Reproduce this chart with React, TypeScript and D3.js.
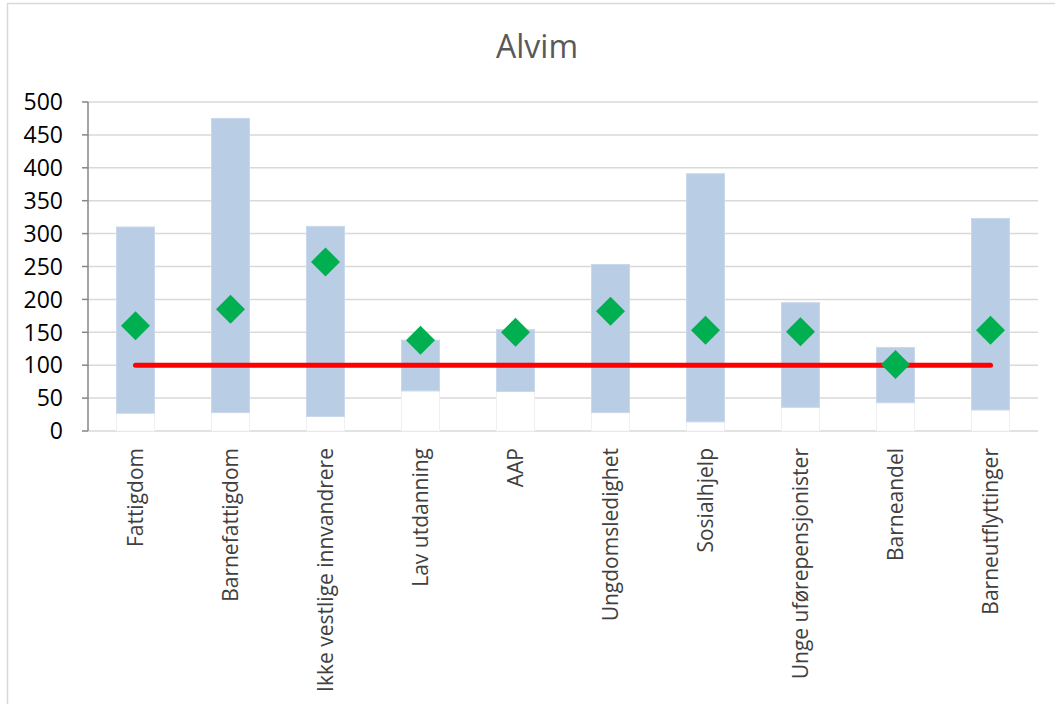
import React from "react";
import * as d3 from "d3";

const categories = [
  "Fattigdom",
  "Barnefattigdom",
  "Ikke vestlige innvandrere",
  "Lav utdanning",
  "AAP",
  "Ungdomsledighet",
  "Sosialhjelp",
  "Unge uførepensjonister",
  "Barneandel",
  "Barneutflyttinger",
];
const minValues = [27, 28, 22, 61, 60, 28, 14, 36, 43, 32];
const maxValues = [310, 475, 311, 138, 154, 253, 391, 195, 127, 323];
const values = [160, 185, 257, 138, 150, 182, 153, 151, 101, 153];
const referenceValue = 100;
const yTicks = [0, 50, 100, 150, 200, 250, 300, 350, 400, 450, 500];
const title = "Alvim";

const W = 1055;
const H = 704;
const left = 88;
const right = 1038;
const top = 102;
const bottom = 431;

export default function App() {
  const x = d3.scaleBand<string>().domain(categories).range([left, right]).padding(0);
  const y = d3.scaleLinear().domain([0, 500]).range([bottom, top]);
  const bw = x.bandwidth() * 0.4;
  const cx = (c: string) => (x(c) as number) + x.bandwidth() / 2;
  const diamond = d3.symbol().type(d3.symbolSquare).size(420)();
  const font = "'Open Sans', sans-serif";

  const lineGen = d3
    .line<string>()
    .x((c) => cx(c))
    .y(() => y(referenceValue));

  return (
    <svg
      width={W}
      height={H}
      style={{ position: "absolute", left: 0, top: 0, background: "#fff" }}
    >
      <rect x={7.5} y={3.5} width={W + 10} height={H + 10} fill="#fff" stroke="#d9d9d9" strokeWidth={1.5} />
      <text x={537} y={58} textAnchor="middle" fontFamily={font} fontSize={32} fill="#595959">
        {title}
      </text>
      {yTicks.map((t) => (
        <g key={t}>
          <line x1={left} x2={right} y1={y(t)} y2={y(t)} stroke="#d9d9d9" strokeWidth={1.5} />
          <line x1={82} x2={left} y1={y(t)} y2={y(t)} stroke="#868686" strokeWidth={1.5} />
          <text x={63} y={y(t)} dy="0.36em" textAnchor="end" fontFamily={font} fontSize={23} fill="#000">
            {t}
          </text>
        </g>
      ))}
      <line x1={left} x2={left} y1={top} y2={bottom} stroke="#868686" strokeWidth={1.5} />
      {categories.map((c, i) => (
        <g key={c}>
          <rect
            x={cx(c) - bw / 2}
            y={y(minValues[i])}
            width={bw}
            height={y(0) - y(minValues[i])}
            fill="#fff"
            stroke="#f0f0f0"
            strokeWidth={1}
          />
          <rect
            x={cx(c) - bw / 2}
            y={y(maxValues[i])}
            width={bw}
            height={y(minValues[i]) - y(maxValues[i])}
            fill="#b9cde5"
            stroke="#c9d8ec"
            strokeWidth={1}
          />
        </g>
      ))}
      <path d={lineGen(categories) || ""} stroke="#ff0000" strokeWidth={5} strokeLinecap="round" fill="none" />
      {categories.map((c, i) => (
        <path
          key={c}
          d={diamond || ""}
          transform={`translate(${cx(c)},${y(values[i])}) rotate(45)`}
          fill="#00b050"
        />
      ))}
      {categories.map((c) => (
        <text
          key={c}
          transform={`translate(${cx(c) + 7},448) rotate(-90)`}
          textAnchor="end"
          fontFamily={font}
          fontSize={21}
          fill="#404040"
        >
          {c}
        </text>
      ))}
    </svg>
  );
}
